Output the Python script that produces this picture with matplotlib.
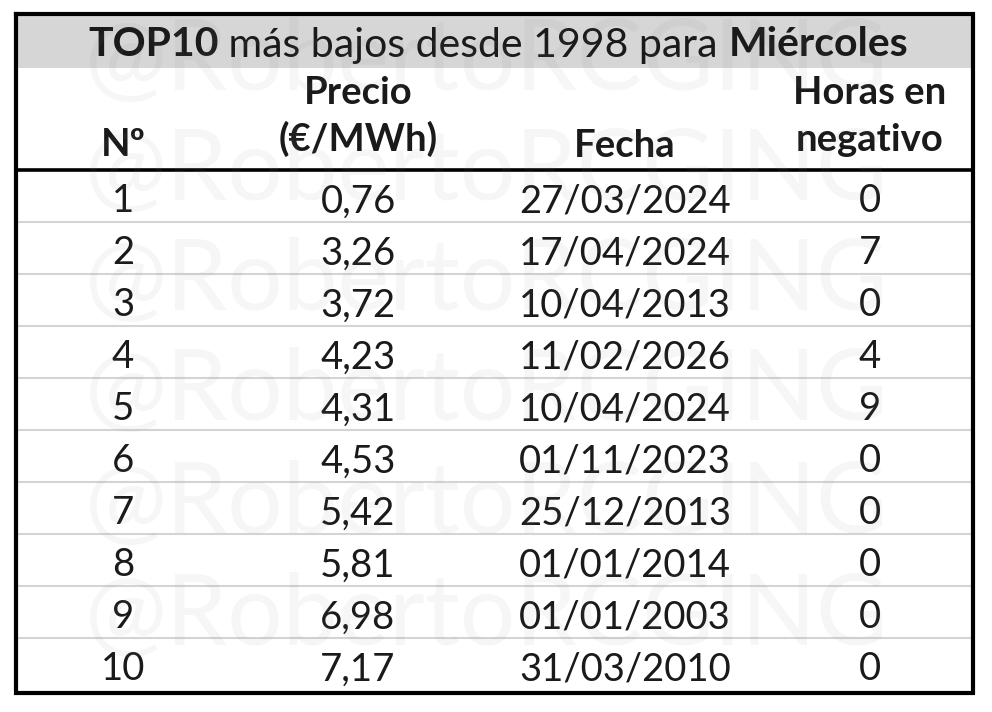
import matplotlib
matplotlib.use("Agg")
import matplotlib.pyplot as plt

rank = ["1", "2", "3", "4", "5", "6", "7", "8", "9", "10"]
precio = ["0,76", "3,26", "3,72", "4,23", "4,31", "4,53", "5,42", "5,81", "6,98", "7,17"]
fecha = ["27/03/2024", "17/04/2024", "10/04/2013", "11/02/2026", "10/04/2024",
         "01/11/2023", "25/12/2013", "01/01/2014", "01/01/2003", "31/03/2010"]
horas = ["0", "7", "0", "4", "9", "0", "0", "0", "0", "0"]
title_parts = [("TOP10", "bold"), (" más bajos desde 1998 para ", "normal"), ("Miércoles", "bold")]
watermark = "@RobertoRCGING"

FONT = "Lato"
X_COLS = [123, 358, 625, 870]
fig = plt.figure(figsize=(9.92, 7.12), dpi=100)
ax = fig.add_axes([0, 0, 1, 1])
ax.set_xlim(0, 992)
ax.set_ylim(712, 0)
ax.axis("off")

L, R, T, B = 16, 973, 14, 693
ax.fill_between([L, R], T, 68, color="#d6d6d6", lw=0, zorder=1)

ROW0, ROWH = 170, 52
for i in range(1, len(rank)):
    y = ROW0 + i * ROWH
    ax.plot([L, R], [y, y], color="#d4d4d4", lw=1.5, zorder=2)
ax.plot([L, R], [ROW0, ROW0], color="black", lw=2.6, zorder=5, solid_capstyle="butt")
ax.plot([L, R, R, L, L], [T, T, B, B, T], color="black", lw=3, zorder=6, solid_joinstyle="miter")

RS = 27.5
for i in range(len(rank)):
    yb = ROW0 + ROWH * i + 42.5
    for x, col in zip(X_COLS, (rank, precio, fecha, horas)):
        ax.text(x, yb, col[i], ha="center", va="baseline", fontsize=RS, family=FONT, color="#1a1a1a", zorder=4)

HS = 27.5
hk = dict(ha="center", va="baseline", fontsize=HS, family=FONT, weight="bold", color="#1a1a1a", zorder=4)
ax.text(X_COLS[0], 156, "Nº", **hk)
ax.text(X_COLS[1], 104, "Precio", **hk)
ax.text(X_COLS[1], 151, "(€/MWh)", **hk)
ax.text(X_COLS[2], 157, "Fecha", **hk)
ax.text(X_COLS[3], 104, "Horas en", **hk)
ax.text(X_COLS[3], 151, "negativo", **hk)

# Title assembled from bold and regular runs
r = fig.canvas.get_renderer()
tk = dict(fontsize=29.5, family=FONT, color="#1a1a1a", zorder=4, va="baseline", ha="left")
x = 88
for s, w in title_parts:
    t = ax.text(x, 56.5, s.replace(" ", "\u00a0"), weight=w, **tk)
    bb = t.get_window_extent(r)
    x = bb.x1

# Watermark rows
for y in (90, 200, 310, 420, 533, 645):
    t = ax.text(487, y, watermark, ha="center", va="baseline", fontsize=70.5, family=FONT, weight="normal",
            color="#808080", alpha=0.07, zorder=7)
    t.set_clip_path(ax.patch)

fig.savefig("out.png", dpi=100)
